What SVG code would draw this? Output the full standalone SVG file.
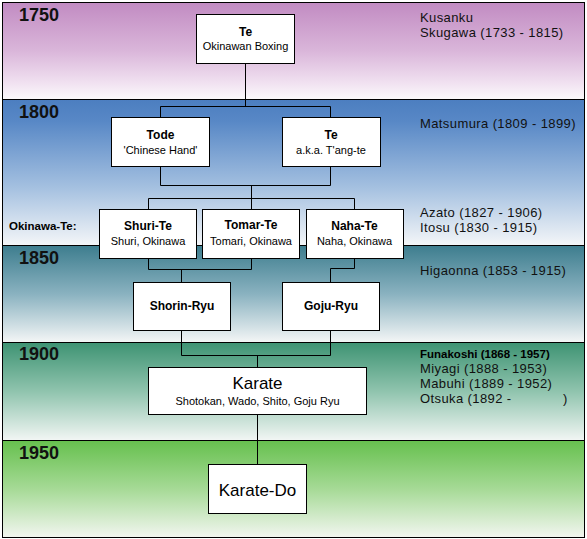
<svg xmlns="http://www.w3.org/2000/svg" width="587" height="539" viewBox="0 0 587 539">
<defs>
<linearGradient id="g1750" x1="0" y1="0" x2="0" y2="1">
<stop offset="0" stop-color="#c18bc2"/><stop offset="0.5" stop-color="#dab6da"/><stop offset="0.85" stop-color="#f2e4f2"/><stop offset="1" stop-color="#fbfafb"/>
</linearGradient>
<linearGradient id="g1800" x1="0" y1="0" x2="0" y2="1">
<stop offset="0" stop-color="#4c7ec0"/><stop offset="0.15" stop-color="#5888c6"/><stop offset="0.6" stop-color="#a4c0e0"/><stop offset="1" stop-color="#f4f6f8"/>
</linearGradient>
<linearGradient id="g1850" x1="0" y1="0" x2="0" y2="1">
<stop offset="0" stop-color="#3d7d8e"/><stop offset="0.5" stop-color="#8ab2c0"/><stop offset="1" stop-color="#f4f6f6"/>
</linearGradient>
<linearGradient id="g1900" x1="0" y1="0" x2="0" y2="1">
<stop offset="0" stop-color="#3e9373"/><stop offset="0.5" stop-color="#90c4ae"/><stop offset="1" stop-color="#f2f6f4"/>
</linearGradient>
<linearGradient id="g1950" x1="0" y1="0" x2="0" y2="1">
<stop offset="0" stop-color="#66c04e"/><stop offset="0.5" stop-color="#a6da96"/><stop offset="1" stop-color="#f2f6f0"/>
</linearGradient>
</defs>
<style>
.band{stroke:#000;stroke-width:1}
.box{fill:#fff;stroke:#000;stroke-width:1}
.yr{font-family:"Liberation Sans",Arial,sans-serif;font-weight:bold;font-size:18px;fill:#111}
.t{font-family:"Liberation Sans",Arial,sans-serif;font-weight:bold;font-size:12px;fill:#000;text-anchor:middle}
.s{font-family:"Liberation Sans",Arial,sans-serif;font-size:11px;fill:#000;text-anchor:middle}
.big{font-family:"Liberation Sans",Arial,sans-serif;font-size:17px;fill:#000;text-anchor:middle}
.r{font-family:"Liberation Sans",Arial,sans-serif;font-size:13px;letter-spacing:0.4px;fill:#111}
.rb{font-family:"Liberation Sans",Arial,sans-serif;font-size:11.5px;font-weight:bold;fill:#000}
.c{fill:none;stroke:#000;stroke-width:1}
</style>
<g id="bands">
<rect class="band" x="2.5" y="2.5" width="582" height="97" fill="url(#g1750)"/>
<rect class="band" x="2.5" y="99.5" width="582" height="146" fill="url(#g1800)"/>
<rect class="band" x="2.5" y="245.5" width="582" height="97" fill="url(#g1850)"/>
<rect class="band" x="2.5" y="342.5" width="582" height="98" fill="url(#g1900)"/>
<rect class="band" x="2.5" y="440.5" width="582" height="97" fill="url(#g1950)"/>
<text class="yr" x="19" y="21">1750</text>
<text class="yr" x="19" y="118">1800</text>
<text class="yr" x="19" y="264">1850</text>
<text class="yr" x="19" y="360">1900</text>
<text class="yr" x="19" y="459">1950</text>
<text class="rb" x="9" y="230">Okinawa-Te:</text>
</g>
<g id="notes">
<text class="r" x="420" y="22">Kusanku</text>
<text class="r" x="420" y="37">Skugawa (1733 - 1815)</text>
<text class="r" x="420" y="128">Matsumura (1809 - 1899)</text>
<text class="r" x="420" y="217">Azato (1827 - 1906)</text>
<text class="r" x="420" y="232">Itosu (1830 - 1915)</text>
<text class="r" x="420" y="275">Higaonna (1853 - 1915)</text>
<text class="rb" x="420" y="358">Funakoshi (1868 - 1957)</text>
<text class="r" x="420" y="373">Miyagi (1888 - 1953)</text>
<text class="r" x="420" y="388">Mabuhi (1889 - 1952)</text>
<text class="r" x="420" y="403">Otsuka (1892 - <tspan x="563">)</tspan></text>
</g>
<g id="connectors">
<path class="c" d="M245.5 63V106.5M160.5 117V106.5H330.5V117"/>
<path class="c" d="M160.5 166V185.5H330.5V166M251.5 185.5V198.5M148.5 209V198.5H354.5V209M251.5 198.5V209"/>
<path class="c" d="M148.5 258V269.5H251.5V258M181.5 269.5V282"/>
<path class="c" d="M354.5 258V268.5H330.5V282"/>
<path class="c" d="M181.5 330V355.5H330.5V330M257.5 355.5V367"/>
<path class="c" d="M257.5 414V464"/>
</g>
<g id="n-te">
<rect class="box" x="196.5" y="14.5" width="98" height="49"/>
<text class="t" x="245.5" y="36">Te</text>
<text class="s" x="245.5" y="50">Okinawan Boxing</text>
</g>
<g id="n-tode">
<rect class="box" x="111.5" y="117.5" width="98" height="49"/>
<text class="t" x="160.5" y="139">Tode</text>
<text class="s" x="160.5" y="154">'Chinese Hand'</text>
</g>
<g id="n-te2">
<rect class="box" x="282.5" y="117.5" width="98" height="49"/>
<text class="t" x="331" y="139">Te</text>
<text class="s" x="331" y="154">a.k.a. T'ang-te</text>
</g>
<g id="n-shuri">
<rect class="box" x="99.5" y="209.5" width="97" height="49"/>
<text class="t" x="148" y="230">Shuri-Te</text>
<text class="s" x="148" y="245">Shuri, Okinawa</text>
</g>
<g id="n-tomar">
<rect class="box" x="202.5" y="209.5" width="97" height="49"/>
<text class="t" x="251" y="229">Tomar-Te</text>
<text class="s" x="251" y="245">Tomari, Okinawa</text>
</g>
<g id="n-naha">
<rect class="box" x="306.5" y="209.5" width="97" height="49"/>
<text class="t" x="354.5" y="230">Naha-Te</text>
<text class="s" x="354.5" y="245">Naha, Okinawa</text>
</g>
<g id="n-shorin">
<rect class="box" x="133.5" y="282.5" width="97" height="48"/>
<text class="t" x="182" y="310">Shorin-Ryu</text>
</g>
<g id="n-goju">
<rect class="box" x="282.5" y="282.5" width="97" height="48"/>
<text class="t" x="331" y="310">Goju-Ryu</text>
</g>
<g id="n-karate">
<rect class="box" x="148.5" y="367.5" width="218" height="47"/>
<text class="big" x="257.5" y="389">Karate</text>
<text class="s" x="257.5" y="405">Shotokan, Wado, Shito, Goju Ryu</text>
</g>
<g id="n-karatedo">
<rect class="box" x="208.5" y="464.5" width="98" height="49"/>
<text class="big" x="257.5" y="496">Karate-Do</text>
</g>
</svg>
